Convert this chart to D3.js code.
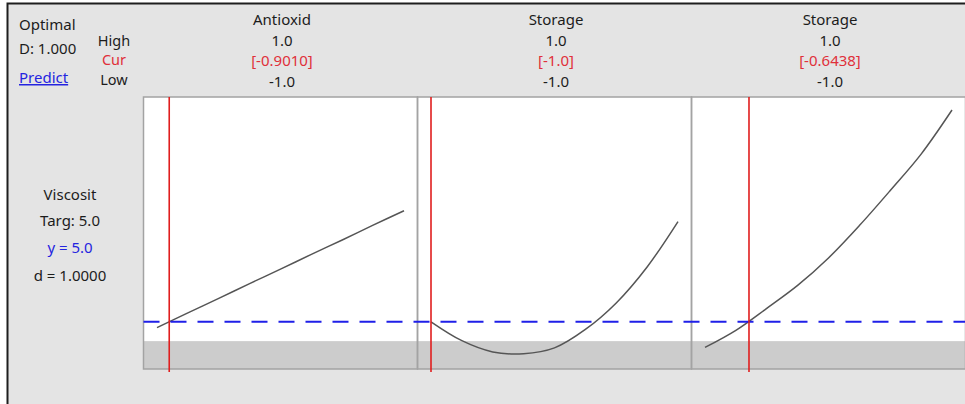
<!DOCTYPE html>
<html>
<head>
<meta charset="utf-8">
<script src="https://cdn.jsdelivr.net/npm/d3@7"></script>
<style>
  html, body { margin: 0; padding: 0; background: #ffffff; }
  svg { display: block; }
  text { font-family: "Noto Sans", "DejaVu Sans", sans-serif; }
</style>
</head>
<body>
<svg id="chart" width="965" height="404"></svg>
<script>
// Response optimizer: one panel per factor, predicted Viscosit vs coded level
const factors = ["Antioxid", "Storage", "Storage"];
const highLabels = ["1.0", "1.0", "1.0"];
const curLabels = ["[-0.9010]", "[-1.0]", "[-0.6438]"];
const lowLabels = ["-1.0", "-1.0", "-1.0"];
const curSettings = [-0.9010, -1.0, -0.6438];

// coded factor levels at which the response trace is evaluated
const levels = [-1, -0.75, -0.5, -0.25, 0, 0.25, 0.5, 0.75, 1];
const viscAntioxid = [4.87, 5.20, 5.52, 5.85, 6.17, 6.50, 6.82, 7.15, 7.47];
const viscStorageA = [5.00, 4.58, 4.33, 4.29, 4.42, 4.83, 5.42, 6.22, 7.23];
const viscStorageB = [4.43, 4.81, 5.30, 5.81, 6.42, 7.14, 7.92, 8.73, 9.71];
const traces = [viscAntioxid, viscStorageA, viscStorageB];

const responseName = "Viscosit";
const target = 5.0;
const predicted = 5.0;
const desirability = 1.0;
const compositeD = 1.0;
const shadeTop = 4.57;      // upper edge of the shaded strip
const yDomain = [3.95, 10.0];

const svg = d3.select("#chart");
const W = 965, H = 404;

// window background and frame
svg.append("rect").attr("x", 7).attr("y", 3).attr("width", W).attr("height", H)
  .attr("fill", "#e4e4e4");
svg.append("path")
  .attr("d", `M7.5,${H} V3.5 H${W}`)
  .attr("fill", "none").attr("stroke", "#1e1e1e").attr("stroke-width", 2);

// panel layout
const panelLeft = 143.5, panelW = 274, panelTop = 97, panelBottom = 369, pad = 13.5;
const y = d3.scaleLinear().domain(yDomain).range([panelBottom, panelTop]);

const panels = factors.map((f, i) => {
  const x0 = panelLeft + i * panelW;
  return {
    x0,
    x: d3.scaleLinear().domain([-1, 1]).range([x0 + pad, x0 + panelW - pad])
  };
});

// panel backgrounds and shaded strip
panels.forEach(p => {
  svg.append("rect").attr("x", p.x0).attr("y", panelTop)
    .attr("width", panelW).attr("height", panelBottom - panelTop)
    .attr("fill", "#ffffff");
  svg.append("rect").attr("x", p.x0).attr("y", y(shadeTop))
    .attr("width", panelW).attr("height", panelBottom - y(shadeTop))
    .attr("fill", "#cccccc");
});

// response traces
panels.forEach((p, i) => {
  const line = d3.line()
    .x((d, j) => p.x(levels[j]))
    .y(d => y(d))
    .curve(d3.curveCatmullRom.alpha(0.5));
  svg.append("path").datum(traces[i])
    .attr("d", line)
    .attr("fill", "none")
    .attr("stroke", "#555555")
    .attr("stroke-width", 1.5);
});

// panel borders
panels.forEach(p => {
  svg.append("rect").attr("x", p.x0).attr("y", panelTop)
    .attr("width", panelW).attr("height", panelBottom - panelTop)
    .attr("fill", "none").attr("stroke", "#a3a3a3").attr("stroke-width", 1.5);
});

// target line
svg.append("line")
  .attr("x1", panelLeft).attr("x2", W)
  .attr("y1", y(target)).attr("y2", y(target))
  .attr("stroke", "#1f1fe8").attr("stroke-width", 2)
  .attr("stroke-dasharray", "16,11");

// current settings
panels.forEach((p, i) => {
  svg.append("line")
    .attr("x1", p.x(curSettings[i])).attr("x2", p.x(curSettings[i]))
    .attr("y1", panelTop).attr("y2", panelBottom + 3)
    .attr("stroke", "#e01e1e").attr("stroke-width", 1.6);
});

// column headers
const fs = 15;
const dark = "#1c1c1c", red = "#e0303a", blue = "#2424e0";
panels.forEach((p, i) => {
  const cx = p.x0 + panelW / 2 + 1.5;
  const rows = [
    [factors[i], 25, dark],
    [highLabels[i], 45.5, dark],
    [curLabels[i], 66, red],
    [lowLabels[i], 86.5, dark]
  ];
  rows.forEach(([t, by, c]) => {
    svg.append("text").attr("x", cx).attr("y", by)
      .attr("text-anchor", "middle").attr("font-size", fs)
      .attr("fill", c).text(t);
  });
});

// row labels
[["High", 45.5, dark], ["Cur", 65.3, red], ["Low", 85, dark]].forEach(([t, by, c]) => {
  svg.append("text").attr("x", 114).attr("y", by)
    .attr("text-anchor", "middle").attr("font-size", 14.5)
    .attr("fill", c).text(t);
});

// optimum summary
svg.append("text").attr("x", 19).attr("y", 30).attr("font-size", fs)
  .attr("fill", dark).text("Optimal");
svg.append("text").attr("x", 19).attr("y", 54).attr("font-size", fs)
  .attr("fill", dark).text("D: " + compositeD.toFixed(3));
svg.append("text").attr("x", 19).attr("y", 83).attr("font-size", fs)
  .attr("fill", blue).attr("text-decoration", "underline").text("Predict");

// response summary
const rx = 70;
[
  [responseName, 200, dark],
  ["Targ: " + target.toFixed(1), 226, dark],
  ["y = " + predicted.toFixed(1), 253, blue],
  ["d = " + desirability.toFixed(4), 281, dark]
].forEach(([t, by, c]) => {
  svg.append("text").attr("x", rx).attr("y", by)
    .attr("text-anchor", "middle").attr("font-size", fs)
    .attr("fill", c).text(t);
});
</script>
</body>
</html>
